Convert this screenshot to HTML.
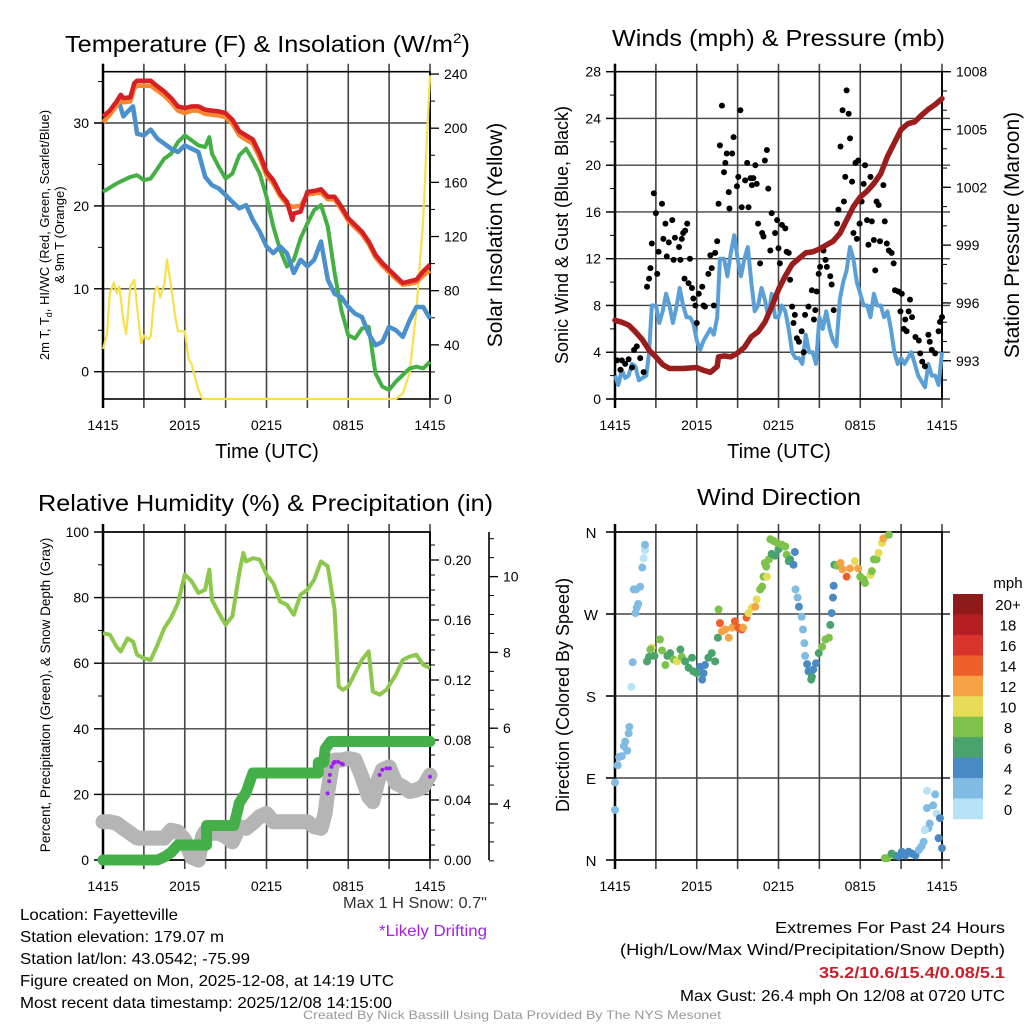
<!DOCTYPE html>
<html><head><meta charset="utf-8"><style>
html,body{margin:0;padding:0;background:#fff}
svg{display:block;font-family:"Liberation Sans",Arial,sans-serif}
</style></head><body>
<svg id="c" xmlns="http://www.w3.org/2000/svg" width="1024" height="1024" viewBox="0 0 1024 1024">
<rect width="1024" height="1024" fill="#fff"/>
<g id="layer"></g>
<text x="65" y="52" font-size="23" textLength="405" lengthAdjust="spacingAndGlyphs">Temperature (F) &amp; Insolation (W/m<tspan dy="-9" font-size="14">2</tspan><tspan dy="9">)</tspan></text>
<text x="612" y="46" font-size="23" textLength="333" lengthAdjust="spacingAndGlyphs">Winds (mph) &amp; Pressure (mb)</text>
<text x="38" y="511" font-size="23" textLength="455" lengthAdjust="spacingAndGlyphs">Relative Humidity (%) &amp; Precipitation (in)</text>
<text x="697" y="505" font-size="23" textLength="164" lengthAdjust="spacingAndGlyphs">Wind Direction</text>
<text x="267" y="458" font-size="20" text-anchor="middle">Time (UTC)</text>
<text x="779" y="458" font-size="20" text-anchor="middle">Time (UTC)</text>
<text transform="translate(49,235) rotate(-90)" font-size="13" text-anchor="middle">2m T, T<tspan dy="3" font-size="9">d</tspan><tspan dy="-3">, HI/WC (Red, Green, Scarlet/Blue)</tspan></text>
<text transform="translate(64,235) rotate(-90)" font-size="13" text-anchor="middle">&amp; 9m T (Orange)</text>
<text transform="translate(502,235) rotate(-90)" font-size="21" text-anchor="middle">Solar Insolation (Yellow)</text>
<text transform="translate(568,235) rotate(-90)" font-size="18" text-anchor="middle">Sonic Wind &amp; Gust (Blue, Black)</text>
<text transform="translate(1019,235) rotate(-90)" font-size="21" text-anchor="middle">Station Pressure (Maroon)</text>
<text transform="translate(50,695) rotate(-90)" font-size="13.5" text-anchor="middle">Percent, Precipitation (Green), &amp; Snow Depth (Gray)</text>
<text transform="translate(569,695) rotate(-90)" font-size="18" text-anchor="middle">Direction (Colored By Speed)</text>
<text x="1008" y="588" font-size="15" text-anchor="middle">mph</text>
<text x="343" y="908" font-size="16" textLength="144" lengthAdjust="spacingAndGlyphs" fill="#333">Max 1 H Snow: 0.7"</text>
<text x="379" y="936" font-size="16" textLength="108" lengthAdjust="spacingAndGlyphs" fill="#a020f0">*Likely Drifting</text>
<g font-size="16">
<text x="20" y="920" textLength="158" lengthAdjust="spacingAndGlyphs">Location: Fayetteville</text>
<text x="20" y="942" textLength="204" lengthAdjust="spacingAndGlyphs">Station elevation: 179.07 m</text>
<text x="20" y="964" textLength="230" lengthAdjust="spacingAndGlyphs">Station lat/lon: 43.0542; -75.99</text>
<text x="20" y="986" textLength="374" lengthAdjust="spacingAndGlyphs">Figure created on Mon, 2025-12-08, at 14:19 UTC</text>
<text x="20" y="1008" textLength="372" lengthAdjust="spacingAndGlyphs">Most recent data timestamp: 2025/12/08 14:15:00</text>
</g>
<g font-size="16">
<text x="775" y="933" textLength="230" lengthAdjust="spacingAndGlyphs">Extremes For Past 24 Hours</text>
<text x="620" y="955" textLength="385" lengthAdjust="spacingAndGlyphs">(High/Low/Max Wind/Precipitation/Snow Depth)</text>
<text x="819" y="978" textLength="186" lengthAdjust="spacingAndGlyphs" fill="#c8202a" font-weight="bold">35.2/10.6/15.4/0.08/5.1</text>
<text x="680" y="1001" textLength="325" lengthAdjust="spacingAndGlyphs">Max Gust: 26.4 mph On 12/08 at 0720 UTC</text>
</g>
<text x="303" y="1019" font-size="12" textLength="418" lengthAdjust="spacingAndGlyphs" fill="#999">Created By Nick Bassill Using Data Provided By The NYS Mesonet</text>
</svg>
<script>
// ---------- data ----------
const xTickLabels=["1415","2015","0215","0815","1415"];
const tempHours=[0,0.5,1,1.3,1.5,2,2.3,2.5,3,3.5,4,4.5,5,5.5,6,6.5,7,7.5,8,8.5,9,9.5,10,10.5,11,11.5,12,12.5,13,13.5,13.9,14,14.5,15,15.5,16,16.5,17,17.5,18,18.5,19,19.5,20,20.5,21,21.5,22,22.5,23,23.5,24];
const tempRed=[30.8,31.5,32.6,33.4,33,33.1,34.8,35.1,35.1,35.1,34.4,33.8,33,32,31.8,32,32,31.6,31.5,31.4,31.2,30.4,29,28.5,28,26.3,24.1,23.1,21.5,20.5,18.3,19.1,19.3,21.7,21.8,22,21.1,21.1,19.9,18.5,17.7,16.9,15.7,14.1,13.1,12.3,11.5,10.7,10.9,11.1,12.1,12.9];
const tempOrange=[30.1,31,32.1,32.8,32.5,32.6,34.2,34.5,34.5,34.5,33.9,33.3,32.5,31.5,31.2,31.5,31.5,31.1,31,30.9,30.7,29.9,28.5,28,27.5,25.8,23.7,22.7,21.2,20.2,19.9,19.9,20,21.4,21.5,21.6,20.8,20.8,19.6,18.2,17.4,16.6,15.4,13.8,12.8,12,11.2,10.5,10.6,10.8,11.6,12.2];
const blueHours=[1.2,1.5,1.7,2.2,2.5,3,3.5,4,4.5,5,5.5,6,6.5,7,7.5,8,8.5,9,9.5,10,10.5,11,11.5,12,12.5,13,13.5,14,14.5,15,15.5,16,16.5,17,17.5,18,18.5,19,19.5,20,20.5,21,21.5,22,22.5,23,23.5,24];
const windChill=[32.4,30.8,31.2,32,28.7,28.5,29.2,28.1,27.5,26.9,26.5,27.3,26.9,26.5,23.5,22.5,22.1,21.3,20.5,19.7,20.1,18.3,16.9,15.1,14.3,15.1,14.3,11.9,13.5,12.7,13.5,15.7,11.1,9.4,9,7.8,7,6.6,4.6,3.2,3.6,5.4,5,4.2,6.2,7.8,7.8,6.4];
const greenHours=[0,1,1.5,2,2.5,3,3.5,4,4.5,5,5.5,6,6.5,7,7.5,7.8,8,8.5,9,9.5,10,10.5,11,11.5,12,12.5,13,13.5,14,14.5,15,15.5,16,16.5,17,17.5,18,18.5,19,19.5,20,20.5,21,21.5,22,22.5,23,23.5,24];
const dewpoint=[21.7,22.7,23.1,23.5,23.7,23.1,23.3,24.5,25.7,26.3,27.7,28.5,27.9,27.3,27.1,28.3,26.3,24.7,23.3,23.9,26.1,26.9,25.5,23.9,21.1,17.5,14.7,12.7,13.5,16.1,17.9,19.5,20.1,17.5,11.9,7.4,4.4,4,5.2,5.4,-0.2,-1.8,-2.2,-1.2,-0.4,0.4,0.6,0.4,1.2];
const solarHours=[0,0.3,0.5,0.8,1,1.2,1.5,1.7,2,2.3,2.5,2.8,3,3.3,3.5,3.8,4,4.2,4.5,4.7,5,5.3,5.5,6,6.3,6.5,6.8,7,7.3,21.5,22,22.5,23,23.5,23.7,24];
const solar=[37,48,78,86,78,83,58,48,83,88,68,41,47,44,46,80,83,75,85,103,83,61,50,50,29,26,14,7,0,0,4,19,66,132,176,239];

const pressHours=[0,0.5,1,1.5,2,2.5,3,3.5,4,5,6,6.5,7,7.5,7.6,8,8.5,9,9.5,10,10.5,11,11.5,12,12.5,13,13.5,14,14.5,15,15.5,16,16.5,17,17.5,18,18.5,19,19.5,20,20.5,21,21.5,22,22.5,23,23.5,24];
const pressure=[995.1,995,994.85,994.5,994.1,993.55,993.2,992.8,992.6,992.6,992.65,992.5,992.4,992.7,993.2,993.25,993.2,993.4,993.7,994.25,994.5,995,995.8,996.7,997.4,998,998.3,998.6,998.65,998.8,999,999.2,999.6,1000.3,1001,1001.5,1001.8,1002.2,1002.7,1003.6,1004.3,1005,1005.3,1005.4,1005.75,1006.05,1006.3,1006.6];
const windHours=[0,0.25,0.5,0.75,1,1.25,1.5,1.75,2,2.3,2.5,2.7,3,3.25,3.5,3.75,4,4.25,4.5,4.75,5,5.25,5.5,5.75,6,6.25,6.5,6.75,7,7.25,7.5,7.7,8,8.25,8.5,8.75,9,9.25,9.5,9.75,10,10.25,10.5,10.75,11,11.25,11.5,11.75,12,12.25,12.5,12.75,13,13.25,13.5,13.75,14,14.25,14.5,14.75,15,15.25,15.5,15.75,16,16.25,16.5,16.75,17,17.25,17.5,17.75,18,18.25,18.5,18.75,19,19.25,19.5,19.75,20,20.25,20.5,20.75,21,21.25,21.5,21.75,22,22.25,22.5,22.75,23,23.25,23.5,23.75,24];
const windSpeed=[2,1.2,2.5,1.8,2,3,2.8,1.6,1.8,2,4,8,8,6.5,7.5,9,8,6.5,7.8,9.5,8,7,7,6.5,5,4.2,5,5.5,6,5.5,7,12,12,10.5,12.5,14,12,10.5,12,13,10,7.5,8,9.5,8.5,7,9,7,7,8,7.5,6,4,3.5,3.5,3,5.5,4,4,3,7,6,7.5,6,5,4.5,8.5,10,11,13,12,10,9,8,8,7,9,8,8,7,7.5,6,4,3,3.5,3,3.5,4,3,2,1.5,1,3,2,2,1.2,4];
const gustHours=[0.15,0.4,0.5,0.75,1,1.25,1.4,1.6,1.85,2.1,2.35,2.5,2.6,2.7,2.85,3,3.1,3.2,3.45,3.55,3.7,3.8,3.95,4.2,4.3,4.4,4.7,4.8,4.9,5,5.15,5.3,5.1,5.5,5.4,5.65,5.75,5.9,6,6.15,6.4,6.5,6.6,6.85,7,7.1,7.25,7.35,7.5,7.6,7.7,7.85,8,8.1,8.2,8.35,8.4,8.6,8.7,8.95,9.05,9.2,9.3,9.55,9.7,9.8,9.95,10.05,10.15,10.3,10.4,10.65,10.5,10.8,10.9,11,11.15,11.25,11.4,11.5,11.75,11.9,12,12.1,12.25,12.5,12.6,12.75,12.85,13,13.1,13.2,13.35,13.5,13.7,13.85,13.95,14.2,14.45,14.6,14.7,14.8,14.95,15.05,15.3,15.45,15.55,15.8,15.9,16.05,16.3,16.4,16.55,16.7,16.8,16.9,17,17.15,17.25,17.4,17.5,17.65,17.75,17.85,17.95,18.1,18.25,18.35,18.5,18.75,18.6,18.85,19,19.1,19.2,19.35,19.45,19.7,19.8,19.95,20.1,20.3,20.45,20.55,20.8,20.95,21.05,21.2,21.3,21.4,21.55,21.65,21.8,22.05,22.3,22.4,22.55,22.75,23,23.1,23.25,23.5,23.75,23.85,24];
const gustSpeed=[3.3,2.5,3.3,3,3.4,2.7,4.2,4.5,3.5,2.3,9.6,10.3,11.2,13.3,17.6,15.9,10.7,12.6,16.7,13.7,15,12.2,13.4,15.3,11.9,13.8,13,11.9,13.7,14.2,14.4,15,10.3,12,9.9,9.5,8.6,8,6.5,9,9.6,8,7.9,10.7,12.3,11.2,8,12.5,13.5,16.7,21.7,25.1,19.4,20.2,21,17.7,16.3,21,22.4,18.2,19,24.7,16.4,18.7,20.2,16.4,18.9,18.3,18.9,20,18.4,11.6,15,14.2,13.9,20.4,21.3,18,12.7,15.9,14.2,15.3,12.9,11.6,14.9,14.6,12.6,12.5,10.2,7.9,6.5,7.2,5.2,4.9,5.8,4,7.2,7.9,9.3,6.8,7.6,9.2,10.7,11.3,12.7,11.9,11.3,10.5,9.8,7.6,15,16.2,21.6,24.7,16.9,19,26.4,24.4,22.3,18.6,14.2,20.2,13.7,20.4,15,16.9,18.4,20,15.3,19,13.2,15.2,13.6,11,16.9,16.6,13.5,18.3,15.2,13.3,12.7,12.5,11.6,9.3,9.2,7.5,9,6,6.8,5.8,7.5,8.5,7,5.3,5,3.9,3.2,2.8,5.5,4.9,4.2,3.9,5.8,6.6,7];

const rhHours=[0,0.5,1,1.3,1.8,2.2,2.5,3,3.5,4,4.5,5,5.5,6,6.5,7,7.5,7.8,8,8.5,9,9.5,10,10.3,10.5,11,11.5,12,12.5,13,13.5,14,14.5,15,15.5,16,16.5,17,17.3,17.6,18,18.5,19,19.5,19.8,20.3,20.8,21.5,22,22.5,23,23.5,24];
const rh=[69.2,68.7,65,63.6,67.6,66.6,62.6,61.5,61,65.6,70.7,73.8,78.3,87,85,81.4,82.4,88.5,79.3,75.3,71.7,74.3,87.5,93.6,91,92,91.6,87,84.4,78.8,77.8,74.8,80.9,82.4,85.5,91,89.5,76.3,52.9,51.9,52.9,57,61,63.6,51.4,50.4,51.9,56.5,61,62,62.6,59.5,58.5];
const precipHours=[0,4,4.5,5,5.5,7.6,7.6,9.6,9.8,10,10.5,11,15.8,15.8,16.2,16.3,16.7,24];
const precip=[0,0,0.002,0.005,0.01,0.01,0.023,0.023,0.03,0.038,0.045,0.058,0.058,0.065,0.065,0.074,0.079,0.079];
const snowHours=[0,0.5,1,1.5,2,2.5,3,3.5,4,4.5,5,5.5,6,6.5,7,7.3,7.5,8,8.5,9,9.5,10,10.5,11,11.5,12,12.5,13,14,15,15.5,16,16.3,16.5,16.8,17,17.5,18,18.5,19,19.5,19.8,20.2,20.5,21,21.5,22,22.5,23,23.5,24];
const snowDepth=[3.53,3.53,3.49,3.36,3.23,3.1,3.1,3.1,3.1,3.1,3.31,3.27,3.05,2.6,2.52,3.14,3.27,3.23,3.23,3.14,3,3.4,3.36,3.5,3.67,3.75,3.53,3.53,3.53,3.53,3.4,3.36,3.75,4.33,4.98,5.16,5.16,5.2,5.16,4.72,4.19,4.06,4.63,4.9,4.98,4.55,4.46,4.33,4.37,4.46,4.76];
const driftHours=[16.48,16.6,16.65,16.77,16.9,17,17.25,17.5,17.6,20.3,20.5,20.8,21.05,24];
const driftDepth=[4.28,4.6,4.77,4.98,5.07,5.11,5.11,5.07,5.05,4.77,4.9,4.94,4.94,4.72];

const dirHours=[0,0,0.2,0.3,0.5,0.65,0.75,0.9,1,1.05,1.2,1.3,1.5,1.6,1.7,1.37,1.55,1.85,2.0,2.1,2.2,2.2,2.35,2.5,2.7,2.6,2.9,3.3,3.45,3.7,3.85,4.05,4.3,4.55,4.8,4.9,5.15,5.4,5.65,5.75,6,6.25,6.4,6.5,6.6,6.85,7.1,7.35,7.55,7.6,7.7,7.85,8.1,8.35,8.6,8.8,9.05,9.3,9.4,9.65,9.8,10.05,10.3,10.4,10.65,10.8,10.9,11.15,11,11.1,11.3,11.4,11.65,11.5,11.75,12,11.9,12.25,12.5,12.6,12.75,12.85,13.1,13.2,13.25,13.4,13.5,13.7,13.8,13.9,13.95,14.1,14.2,14.4,14.45,14.55,14.75,14.95,15.2,15.45,15.7,15.8,15.9,16,16.05,16.1,16.3,16.55,16.7,17,17.25,17.6,17.85,18,18.25,18.35,18.75,18.85,19,19.2,19.35,19.6,19.7,20.1,19.8,20.0,20.3,20.55,20.8,21.05,21.3,21.55,21.8,22.05,22.3,22.5,22.65,22.75,22.9,23,23.1,22.9,23.35,23.5,23.6,23.75,23.85,24,22.75];
const dirDeg=[85,55,104,113,114,125,130,120,139,146,190,217,271,277,281,297,297,300,321,331,340,346,218,223,233,231,224,242,230,214,224,227,220,218,231,223,218,211,222,207,205,212,198,205,214,222,227,218,244,275,260,251,253,244,255,262,255,253,255,266,271,277,278,286,297,300,311,311,326,322,330,352,350,336,334,341,348,346,344,335,328,330,324,338,297,288,278,267,253,238,224,215,207,198,201,209,216,227,234,242,244,258,271,288,301,324,323,326,319,311,320,328,320,311,308,304,313,317,330,330,337,348,353,357,2,2,7,5,4,9,5,9,7,5,11,15,20,33,57,35,40,76,60,72,51,24,46,13,33];
const dirSpeed=[3,3,3,3,3,3,3,3,3,3,1,3,3,3,3,3,3,3,3,1,1,3,7,7,11,9,7,9,9,9,7,7,9,11,7,9,7,7,7,7,7,5,5,5,5,7,7,7,7,9,15,13,13,13,13,15,15,15,13,15,11,11,13,11,9,9,9,11,9,9,9,9,9,7,7,7,9,9,9,9,7,7,5,5,3,3,5,3,3,3,3,5,5,7,7,5,5,7,9,9,9,7,5,5,5,7,9,13,13,15,13,11,13,9,9,9,11,9,9,9,11,11,13,9,9,9,7,7,5,5,5,5,5,5,3,3,3,3,3,3,3,1,3,3,1,5,5,5,1];
const cbLabels=["20+","18","16","14","12","10","8","6","4","2","0"];
const cbColors=["#8f1a1a","#b51f24","#d9342b","#ee5f2c","#f6a443","#e6dc55","#7dc24b","#4aa36c","#4a8ac4","#80bbe3","#b8e2f6"];

// ---------- helpers ----------
const NS="http://www.w3.org/2000/svg";
const layer=document.getElementById('layer');
function mk(tag,attrs,parent){const e=document.createElementNS(NS,tag);for(const k in attrs)e.setAttribute(k,attrs[k]);(parent||layer).appendChild(e);return e;}
const PW=327;
function xsL(h){return 103+h*PW/24;}
function xsR(h){return 615+h*PW/24;}
const T0=71.7,B0=399,T1=532,B1=860;
function yTemp(v){return 371.7-v*8.29;}
function ySolar(v){return 399-v*1.354;}
function yWind(v){return 399-v*(327.3/28);}
function yPress(p){return 71.7+(1008-p)*19.27;}
function yRH(v){return 860-v*3.28;}
function yPrecip(v){return 860-v*1500;}
function ySnow(v){return 804-(v-4)*37.9;}
function yDir(d){return 860-d*0.9111;}
function pathD(hs,vs,xf,yf){return hs.map((h,i)=>(i?'L':'M')+xf(h).toFixed(1)+','+yf(vs[i]).toFixed(1)).join('');}

function frame(xf,top,bot,hLines,name){
  const g=mk('g',{});
  
  
  for(let h=0;h<=24;h+=3){
    const l=mk('line',{x1:xf(h),x2:xf(h),y1:top-8,y2:bot+9,stroke:'#444','stroke-width':1.6},g);
    
    
  }
  hLines.forEach(y=>{
    const l=mk('line',{x1:xf(0)-9,x2:xf(24)+(name.indexOf('wind')===0?8:0),y1:y,y2:y,stroke:'#444','stroke-width':1.4},g);
    
    
  });
  const b=mk('rect',{x:xf(0),y:top,width:PW,height:bot-top,fill:'none',stroke:'#000','stroke-width':1.6},g);
  
  
  mk('line',{x1:xf(0),x2:xf(0),y1:top-8,y2:bot+9,stroke:'#000','stroke-width':2.5},g);
  xTickLabels.forEach((t,i)=>{
    const tx=mk('text',{x:xf(i*6),y:bot+31,'font-size':14,'text-anchor':'middle'},g);
    tx.textContent=t;
    
    
  });
}
function yAxis(x,side,vals,yf,fmt,minorVals,name,top,bot,lineOn){
  const g=mk('g',{});
  
  
  const d=side==='left'?-1:1;
  if(lineOn)mk('line',{x1:x,x2:x,y1:top,y2:bot,stroke:'#000','stroke-width':1.6},g);
  vals.forEach(v=>{
    const y=yf(v);
    mk('line',{x1:x,x2:x+d*9,y1:y,y2:y,stroke:'#000','stroke-width':1.3},g);
    const t=mk('text',{x:x+d*14,y:y+5,'font-size':14,'text-anchor':side==='left'?'end':'start'},g);
    t.textContent=fmt(v);
    
    
  });
  minorVals.forEach(v=>{const y=yf(v);mk('line',{x1:x,x2:x+d*5,y1:y,y2:y,stroke:'#000','stroke-width':1},g);});
}
function range(a,b,s){const r=[];for(let v=a;v<=b+1e-9;v+=s)r.push(+v.toFixed(4));return r;}

// ---------- panel 1: temperature ----------
frame(xsL,T0,B0,[0,10,20,30].map(yTemp),'temp');
yAxis(103,'left',[0,10,20,30],yTemp,v=>v,[5,15,25,35],'temp-left-axis',T0,B0,false);
yAxis(430,'right',[0,40,80,120,160,200,240],ySolar,v=>v,range(20,220,40),'solar-right-axis',T0,B0,true);
let p;
p=mk('path',{d:pathD(solarHours,solar,xsL,ySolar),fill:'none',stroke:'#f8e04a','stroke-width':2.2,'stroke-linejoin':'round'});


p=mk('path',{d:pathD(greenHours,dewpoint,xsL,yTemp),fill:'none',stroke:'#44b044','stroke-width':4,'stroke-linejoin':'round'});


p=mk('path',{d:pathD(blueHours,windChill,xsL,yTemp),fill:'none',stroke:'#4a90cc','stroke-width':4.5,'stroke-linejoin':'round'});


p=mk('path',{d:pathD(tempHours,tempOrange,xsL,yTemp),fill:'none',stroke:'#f7872e','stroke-width':4.5,'stroke-linejoin':'round'});


p=mk('path',{d:pathD(tempHours,tempRed,xsL,yTemp),fill:'none',stroke:'#d62024','stroke-width':4.5,'stroke-linejoin':'round'});



// ---------- panel 2: winds ----------
frame(xsR,T0,B0,[0,4,8,12,16,20,24,28].map(yWind),'wind');
yAxis(615,'left',[0,4,8,12,16,20,24,28],yWind,v=>v,range(2,26,4),'wind-left-axis',T0,B0,false);
yAxis(942,'right',[993,996,999,1002,1005,1008],yPress,v=>v,range(992,1007,1),'pressure-right-axis',T0,B0,true);
p=mk('path',{d:pathD(windHours,windSpeed,xsR,yWind),fill:'none',stroke:'#5a9fd6','stroke-width':4,'stroke-linejoin':'round'});


const gg=mk('g',{});


gustHours.forEach((h,i)=>{
  const c=mk('circle',{cx:xsR(h),cy:yWind(gustSpeed[i]),r:3,fill:'#000'},gg);
  
  
});
p=mk('path',{d:pathD(pressHours,pressure,xsR,yPress),fill:'none',stroke:'#9b1c1c','stroke-width':5.5,'stroke-linejoin':'round','stroke-linecap':'round'});



// ---------- panel 3: RH ----------
frame(xsL,T1,B1,[0,20,40,60,80,100].map(yRH),'rh');
yAxis(103,'left',[0,20,40,60,80,100],yRH,v=>v,[10,30,50,70,90],'rh-left-axis',T1,B1,false);
yAxis(430,'right',[0,0.04,0.08,0.12,0.16,0.20],yPrecip,v=>v.toFixed(2),range(0.01,0.21,0.01),'precip-right-axis',T1,B1,true);
yAxis(489,'right',[4,6,8,10],ySnow,v=>v,range(2.5,11,0.5),'snow-right-axis',T1,B1,true);
p=mk('path',{d:pathD(snowHours,snowDepth,xsL,ySnow),fill:'none',stroke:'#b5b5b5','stroke-width':15,'stroke-linejoin':'round','stroke-linecap':'round'});


p=mk('path',{d:pathD(precipHours,precip,xsL,yPrecip),fill:'none',stroke:'#45b04a','stroke-width':11,'stroke-linejoin':'round','stroke-linecap':'round'});


const dg=mk('g',{});


driftHours.forEach((h,i)=>{
  const c=mk('circle',{cx:xsL(h),cy:ySnow(driftDepth[i]),r:2,fill:'#a020f0'},dg);
  
  
});
p=mk('path',{d:pathD(rhHours,rh,xsL,yRH),fill:'none',stroke:'#8cc84b','stroke-width':4,'stroke-linejoin':'round'});



// ---------- panel 4: direction ----------
frame(xsR,T1,B1,[0,90,180,270,360].map(yDir),'direction');
const dirLabels=["N","E","S","W","N"];
[0,90,180,270,360].forEach((d,i)=>{
  const y=yDir(d);
  mk('line',{x1:615,x2:606,y1:y,y2:y,stroke:'#000','stroke-width':1.3});
  mk('line',{x1:942,x2:950,y1:y,y2:y,stroke:'#000','stroke-width':1.3});
  const t=mk('text',{x:591,y:y+6,'font-size':15,'text-anchor':'middle'});
  t.textContent=dirLabels[i];
  
  
});
function spdColor(s){let b=Math.floor(s/2);if(b>10)b=10;return cbColors[10-b];}
const pg=mk('g',{});


dirHours.forEach((h,i)=>{
  const c=mk('circle',{cx:xsR(h),cy:yDir(dirDeg[i]),r:4,fill:spdColor(dirSpeed[i])},pg);
  
  
});
const cb=mk('g',{});


const binH=(819-594)/11;
cbColors.forEach((col,i)=>{
  const r=mk('rect',{x:953,y:594+i*binH,width:30,height:binH+0.3,fill:col},cb);
  
  
  const t=mk('text',{x:1008,y:594+i*binH+binH/2+6,'font-size':15,'text-anchor':'middle'},cb);
  t.textContent=cbLabels[i];
  
  
});
</script>
</body></html>
